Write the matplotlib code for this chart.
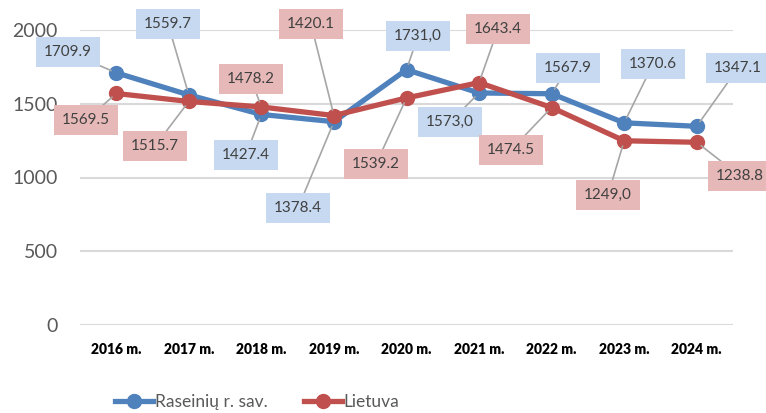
import matplotlib.pyplot as plt

years = ['2016 m.', '2017 m.', '2018 m.', '2019 m.', '2020 m.', '2021 m.', '2022 m.', '2023 m.', '2024 m.']
raseiniai = [1709.9, 1559.7, 1427.4, 1378.4, 1731.0, 1573.0, 1567.9, 1370.6, 1347.1]
lietuva = [1569.5, 1515.7, 1478.2, 1420.1, 1539.2, 1643.4, 1474.5, 1249.0, 1238.8]
raseiniai_txt = ['1709.9', '1559.7', '1427.4', '1378.4', '1731,0', '1573,0', '1567.9', '1370.6', '1347.1']
lietuva_txt = ['1569.5', '1515.7', '1478.2', '1420.1', '1539.2', '1643.4', '1474.5', '1249,0', '1238.8']

# label box centres, figure pixels from the top-left
blue_pos = [(68, 52), (168, 24), (246, 155), (298, 208), (418, 36), (450, 122), (568, 68), (653, 64), (738, 68)]
red_pos = [(86, 120), (155, 146), (251, 79), (311, 24), (376, 164), (498, 29), (511, 150), (608, 195), (740, 176)]

W, H = 766, 413
BLUE, RED = '#4F81BD', '#C0504D'
GRAY = '#595959'
FONT = ['Lato', 'DejaVu Sans']

fig = plt.figure(figsize=(W / 100, H / 100), dpi=100)
ax = fig.add_axes([80 / W, 1 - 325 / H, (733 - 80) / W, (325 - 30) / H])

x = list(range(len(years)))
ax.plot(x, raseiniai, color=BLUE, lw=3.8, marker='o', ms=10, label='Raseinių r. sav.', zorder=3)
ax.plot(x, lietuva, color=RED, lw=3.8, marker='o', ms=10, label='Lietuva', zorder=4)

ax.set_xlim(-0.5, len(years) - 0.5)
ax.set_ylim(0, 2000)
ax.set_yticks([0, 500, 1000, 1500, 2000])
ax.grid(axis='y', color='#D9D9D9', lw=1.5)
ax.set_axisbelow(True)
for s in ax.spines.values():
    s.set_visible(False)
ax.tick_params(length=0)
ax.tick_params(axis='y', pad=16, labelsize=14, labelcolor=GRAY)
ax.tick_params(axis='x', pad=13)
for t in ax.get_yticklabels():
    t.set_family(FONT)
ax.set_xticks(x)
ax.set_xticklabels(years, fontsize=10, fontweight='heavy', family=FONT)


def labels(vals, txts, pos, fc):
    for i, (v, t, p) in enumerate(zip(vals, txts, pos)):
        ax.annotate(t, xy=(i, v), xytext=(p[0], H - p[1]), textcoords='figure pixels',
                    ha='center', va='center', fontsize=11, color='#404040', family=FONT,
                    bbox=dict(boxstyle='square,pad=0.5', fc=fc, ec='none'),
                    arrowprops=dict(arrowstyle='-', color='#A6A6A6', lw=1.2, shrinkA=0, shrinkB=4),
                    zorder=5)


labels(raseiniai, raseiniai_txt, blue_pos, '#C6D9F1')
labels(lietuva, lietuva_txt, red_pos, '#E6B9B8')

fig.legend(loc='center', bbox_to_anchor=(257 / W, 1 - 402 / H), ncol=2, frameon=False,
           prop={'family': FONT, 'size': 12.5}, labelcolor=GRAY, handlelength=2.2,
           handletextpad=0.1, columnspacing=2.1, markerscale=1.0)

fig.savefig('out.png', dpi=100)
